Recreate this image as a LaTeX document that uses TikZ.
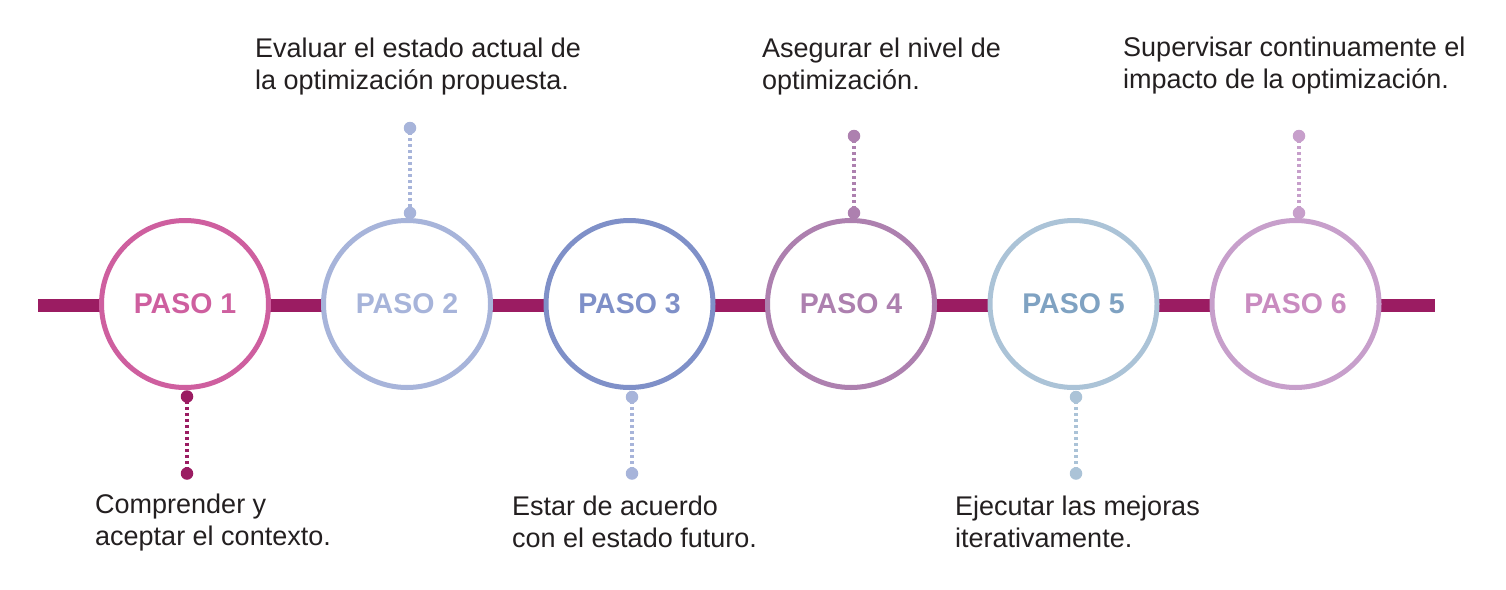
\documentclass[tikz,border=0pt]{standalone}
\usepackage{fontspec}
\setmainfont{Liberation Sans}
\definecolor{barc}{HTML}{9B1C62}
\definecolor{cA}{HTML}{CE5F9F}
\definecolor{cB}{HTML}{A7B4DA}
\definecolor{cC}{HTML}{7F90C8}
\definecolor{cD}{HTML}{AD80AF}
\definecolor{cE}{HTML}{ABC3D7}
\definecolor{cEt}{HTML}{7FA2C2}
\definecolor{cF}{HTML}{C79FCB}
\definecolor{cFt}{HTML}{C98BC0}
\definecolor{txt}{HTML}{231F20}
\tikzset{
  stepcirc/.style={circle, draw, line width=5pt, fill=white, minimum size=167pt, inner sep=0pt,
    font=\fontsize{28.5}{30}\selectfont\bfseries},
  dotnode/.style={circle, inner sep=0pt, minimum size=12.5pt},
  dotline/.style={line width=3.2pt, dash pattern=on 3pt off 3pt, shorten <=-2pt, shorten >=-2pt},
  lbl/.style={anchor=base west, align=left, inner sep=0pt, text=txt,
    font=\fontsize{27}{32}\selectfont},
}
\begin{document}
\begin{tikzpicture}[x=1pt, y=-1pt]
\useasboundingbox (0,0) rectangle (1506,589);
\coordinate (barL) at (38,305.7);
\coordinate (barR) at (1435,305.7);
\draw[barc, line width=12.5pt] (barL) -- (barR);

\node[stepcirc, draw=cA, text=cA] (p1) at (185,304) {PASO 1};
\node[stepcirc, draw=cB, text=cB] (p2) at (407,304) {PASO 2};
\node[stepcirc, draw=cC, text=cC] (p3) at (629.5,304) {PASO 3};
\node[stepcirc, draw=cD, text=cD] (p4) at (851,304) {PASO 4};
\node[stepcirc, draw=cE, text=cEt] (p5) at (1073.5,304) {PASO 5};
\node[stepcirc, draw=cF, text=cFt] (p6) at (1295.5,304) {PASO 6};

% step 1 (below)
\node[dotnode, fill=barc] (d1a) at (187,396.5) {};
\node[dotnode, fill=barc] (d1b) at (187,473.5) {};
\draw[dotline, barc] (d1a) -- (d1b);
% step 2 (above)
\node[dotnode, fill=cB] (d2a) at (410,128) {};
\node[dotnode, fill=cB] (d2b) at (410,213) {};
\draw[dotline, cB] (d2a) -- (d2b);
% step 3 (below)
\node[dotnode, fill=cB] (d3a) at (632,397) {};
\node[dotnode, fill=cB] (d3b) at (632,473.5) {};
\draw[dotline, cB] (d3a) -- (d3b);
% step 4 (above)
\node[dotnode, fill=cD] (d4a) at (854,136) {};
\node[dotnode, fill=cD] (d4b) at (854,213) {};
\draw[dotline, cD] (d4a) -- (d4b);
% step 5 (below)
\node[dotnode, fill=cE] (d5a) at (1076,397) {};
\node[dotnode, fill=cE] (d5b) at (1076,473.5) {};
\draw[dotline, cE] (d5a) -- (d5b);
% step 6 (above)
\node[dotnode, fill=cF] (d6a) at (1299,136) {};
\node[dotnode, fill=cF] (d6b) at (1299,213) {};
\draw[dotline, cF] (d6a) -- (d6b);

\node[lbl] (t1) at (95,545) {Comprender y\\aceptar el contexto.};
\node[lbl] (t2) at (255,89.5) {Evaluar el estado actual de\\la optimización propuesta.};
\node[lbl] (t3) at (512,547) {Estar de acuerdo\\con el estado futuro.};
\node[lbl] (t4) at (762,89.5) {Asegurar el nivel de\\optimización.};
\node[lbl] (t5) at (955,547) {Ejecutar las mejoras\\iterativamente.};
\node[lbl] (t6) at (1123,88.5) {Supervisar continuamente el\\impacto de la optimización.};
\end{tikzpicture}
\end{document}
